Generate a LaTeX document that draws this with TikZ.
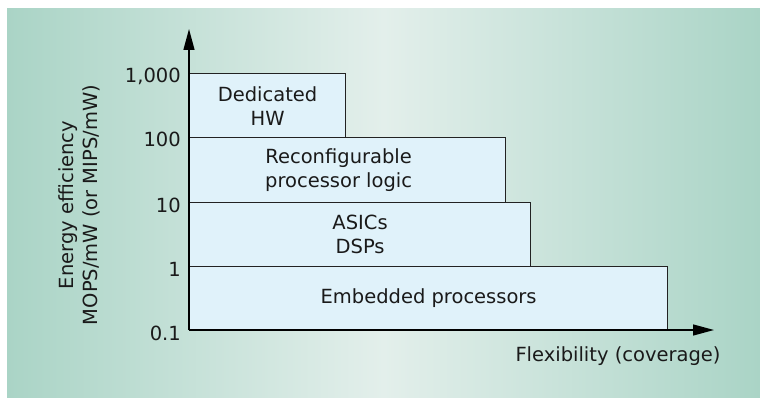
\documentclass[tikz,border=0pt]{standalone}
\usepackage{fontspec}
\setmainfont{DejaVu Sans}
\usetikzlibrary{arrows.meta}
\definecolor{tealedge}{RGB}{170,212,198}
\definecolor{tealmid}{RGB}{227,239,235}
\definecolor{boxfill}{RGB}{224,242,250}
\definecolor{boxline}{RGB}{34,34,34}
\definecolor{inktext}{RGB}{26,26,26}
\tikzset{
  levelbox/.style={draw=boxline, line width=1.2pt, fill=boxfill, anchor=north west,
    inner sep=0pt, align=center, text=inktext},
  ticklabel/.style={anchor=base east, inner sep=0pt, text=inktext},
  axisline/.style={line width=1.3pt, -{Triangle[length=21pt,width=11pt]}}
}
\begin{document}
\begin{tikzpicture}[x=1pt,y=1pt,yscale=-1,font=\fontsize{19.5}{24}\selectfont]
\useasboundingbox (0,0) rectangle (760,398);
%Background panel
\fill[white] (0,0) rectangle (760,398);
\shade[left color=tealedge, right color=tealedge, middle color=tealmid] (7,9) rectangle (760,398);

%Level boxes
\node[levelbox, minimum width=156pt, minimum height=64pt] (hw) at (189,73) {};
\node[levelbox, minimum width=316pt, minimum height=65pt] (reconf) at (189,137) {};
\node[levelbox, minimum width=341pt, minimum height=64pt] (asic) at (189,202) {};
\node[levelbox, minimum width=478pt, minimum height=64pt] (embed) at (189,266) {};

% Text Node
\node[align=center, text=inktext] (hwtext) at (hw.center) {Dedicated\\HW};
% Text Node
\node[align=center, text=inktext] (reconftext) at ([xshift=-9pt]reconf.center) {Reconfigurable\\processor logic};
% Text Node
\node[align=center, text=inktext] (asictext) at (asic.center) {ASICs\\DSPs};
% Text Node
\node[align=center, text=inktext] (embedtext) at (embed.center) {Embedded processors};

%Axes
\coordinate (origin) at (189,330);
\coordinate (ytop) at (189,29);
\coordinate (xend) at (714,330);
\draw[axisline] (origin) -- (ytop);
\draw[axisline] (origin) -- (xend);

% Tick labels
\node[ticklabel] (t1000) at (181,83) {1,000};
\node[ticklabel] (t100) at (181,147) {100};
\node[ticklabel] (t10) at (181,212) {10};
\node[ticklabel] (t1) at (181,276) {1};
\node[ticklabel] (t01) at (181,340) {0.1};

% Axis titles
\node[text=inktext] (xtitle) at (618,356) {Flexibility (coverage)};
\node[text=inktext, align=center, rotate=90] (ytitle) at (79,205) {Energy efficiency\\MOPS/mW (or MIPS/mW)};
\end{tikzpicture}
\end{document}
